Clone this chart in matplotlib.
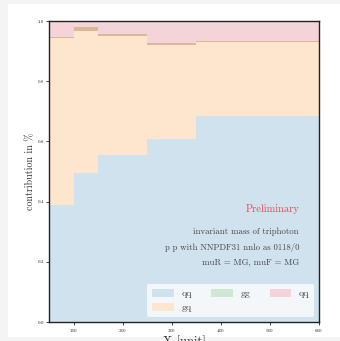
import matplotlib
matplotlib.use("Agg")
import matplotlib.pyplot as plt
from matplotlib.patches import Patch, Rectangle
import numpy as np

plt.rcParams['font.family'] = 'serif'
plt.rcParams['font.serif'] = ['cmr10', 'DejaVu Serif']
plt.rcParams['axes.formatter.use_mathtext'] = True
plt.rcParams['mathtext.fontset'] = 'cm'

bin_edges = [50, 100, 150, 250, 350, 600]
qq_frac = [0.389, 0.494, 0.556, 0.607, 0.684]
gq_frac = [0.553, 0.473, 0.394, 0.312, 0.245]
gg_frac = [0.004, 0.012, 0.008, 0.008, 0.005]
qqbar_frac = [0.054, 0.021, 0.042, 0.073, 0.066]

labels = ['qq', 'gq', 'gg', 'qq']
c_blue = '#d0e2ee'
c_orange = '#fee5cd'
c_green = '#cfe8d5'
c_pink = '#f5d4d9'
c_band = '#dbb796'

fig = plt.figure(figsize=(3.40, 3.41), dpi=100, facecolor='#f4f4f4')
fig.patches.append(Rectangle((8/340, 4/341), 332/340, 333/341, transform=fig.transFigure,
                             facecolor='white', edgecolor='none', zorder=-10))
ax = fig.add_axes([49/340, 19/341, 270/340, 301/341])

edges = np.array(bin_edges)
x = np.repeat(edges, 2)[1:-1]
def stepv(v):
    return np.repeat(np.array(v), 2)

b0 = np.zeros(len(qq_frac))
b1 = b0 + np.array(qq_frac)
b2 = b1 + np.array(gq_frac)
b3 = b2 + np.array(gg_frac)
b4 = b3 + np.array(qqbar_frac)

ax.fill_between(x, stepv(b0), stepv(b1), color=c_blue, lw=0)
ax.fill_between(x, stepv(b1), stepv(b2), color=c_orange, lw=0)
ax.fill_between(x, stepv(b2), stepv(b3), color=c_band, lw=0)
ax.fill_between(x, stepv(b3), stepv(b4), color=c_pink, lw=0)

ax.set_xlim(50, 600)
ax.set_ylim(0, 1.0)
ax.set_xticks([100, 200, 300, 400, 500, 600])
ax.set_yticks([0.0, 0.2, 0.4, 0.6, 0.8, 1.0])
ax.set_yticklabels(['0.0', '0.2', '0.4', '0.6', '0.8', '1.0'])
ax.tick_params(labelsize=3.5, length=2, width=0.6, pad=1.5, colors='#222222')
for s in ax.spines.values():
    s.set_linewidth(1.0)
    s.set_color('#222222')

ax.set_ylabel('contribution in %', fontsize=7.2, color='#333333', labelpad=1.5)
ax.set_xlabel('X [unit]', fontsize=9, color='#333333', labelpad=1)

tx = 0.926
ax.text(tx, 0.377, 'Preliminary', transform=ax.transAxes, ha='right', va='center',
        fontsize=7.5, color='#f0454f')
ax.text(tx, 0.301, 'invariant mass of triphoton', transform=ax.transAxes, ha='right',
        va='center', fontsize=6.3, color='#444444')
ax.text(tx, 0.249, 'p p with NNPDF31 nnlo as 0118/0', transform=ax.transAxes, ha='right',
        va='center', fontsize=6.3, color='#444444')
ax.text(tx, 0.199, 'muR = MG, muF = MG', transform=ax.transAxes, ha='right',
        va='center', fontsize=6.3, color='#444444')

handles = [Patch(facecolor=c_blue), Patch(facecolor=c_orange),
           Patch(facecolor=c_green), Patch(facecolor=c_pink)]
leg = ax.legend(handles, labels, ncol=3, loc='lower right', fontsize=7,
                frameon=True, framealpha=0.75, facecolor='white', edgecolor='none',
                handlelength=2.2, handleheight=0.8, columnspacing=2.0,
                handletextpad=0.8,
                borderaxespad=0.5, borderpad=0.5, labelspacing=0.5,
                labelcolor='#444444')

fig.savefig('out.png', dpi=100, facecolor=fig.get_facecolor())
